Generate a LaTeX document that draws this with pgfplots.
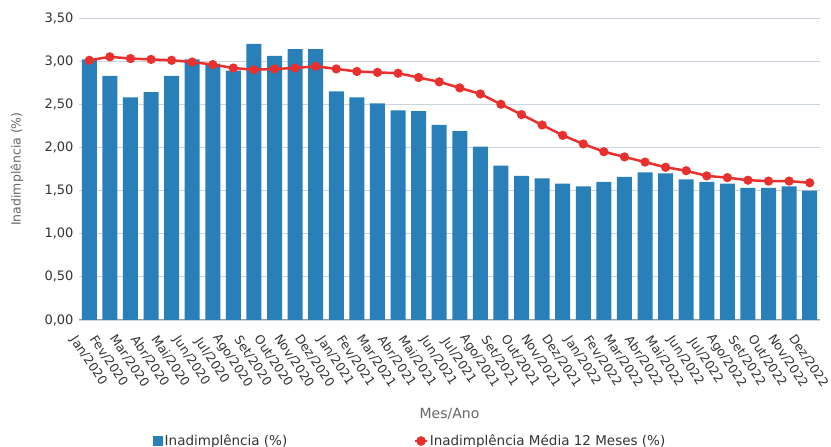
\documentclass[border=0pt]{standalone}
\usepackage{fontspec}
\setmainfont{DejaVu Sans}
\usepackage{pgfplots}
\pgfplotsset{compat=1.18}
\definecolor{barblue}{HTML}{2980B9}
\definecolor{linered}{HTML}{E8302E}
\definecolor{gridc}{HTML}{CAD4DE}
\definecolor{txt}{HTML}{333333}
\definecolor{ttl}{HTML}{666666}
\begin{document}
\begin{tikzpicture}
\path[use as bounding box] (0pt,0pt) rectangle (831pt,447pt);
\begin{axis}[
  at={(79pt,127pt)}, anchor=south west,
  scale only axis, width=741pt, height=302pt,
  xmin=-0.5, xmax=35.5, ymin=0, ymax=3.5,
  xtick={0,...,35},
  xticklabels={Jan/2020,Fev/2020,Mar/2020,Abr/2020,Mai/2020,Jun/2020,Jul/2020,Ago/2020,Set/2020,Out/2020,Nov/2020,Dez/2020,
               Jan/2021,Fev/2021,Mar/2021,Abr/2021,Mai/2021,Jun/2021,Jul/2021,Ago/2021,Set/2021,Out/2021,Nov/2021,Dez/2021,
               Jan/2022,Fev/2022,Mar/2022,Abr/2022,Mai/2022,Jun/2022,Jul/2022,Ago/2022,Set/2022,Out/2022,Nov/2022,Dez/2022},
  ytick={0,0.5,1,1.5,2,2.5,3,3.5},
  yticklabel style={/pgf/number format/.cd, fixed, fixed zerofill, precision=2, use comma, assume math mode=true,
     /tikz/.cd, font=\fontsize{13}{15}\selectfont, text=txt, xshift=-2pt},
  xticklabel style={font=\fontsize{12.5}{15}\selectfont, text=txt, anchor=center, yshift=-41pt, xshift=-1pt, rotate=-56},
  axis line style={draw=none},
  major tick length=0pt,
  ymajorgrids,
  grid style={gridc, line width=0.8pt},
  extra y ticks={0}, extra y tick labels={},
  extra y tick style={grid style={color=black!40, line width=1pt}},
  ylabel={Inadimplência (\%)},
  ylabel style={at={(axis description cs:-0.0837,0.5)}, anchor=center, font=\fontsize{12.5}{14}\selectfont, text=ttl},
  xlabel={Mes/Ano},
  xlabel style={at={(axis description cs:0.5,-0.311)}, anchor=center, font=\fontsize{14}{16}\selectfont, text=ttl},
  legend columns=2,
  legend style={at={(axis description cs:0.4467,-0.4007)}, anchor=center, draw=none, fill=none,
     font=\fontsize{13.5}{15}\selectfont, text=txt,
     /tikz/every even column/.append style={column sep=125pt}},
]
\addplot[ybar, bar width=15pt, bar shift=0pt, fill=barblue, draw=none,
  legend image code/.code={\fill[barblue] (0pt,-5pt) rectangle (10pt,5pt);}]
coordinates {
(0,3.02) (1,2.83) (2,2.58) (3,2.64) (4,2.83) (5,3.02) (6,2.97) (7,2.89) (8,3.20) (9,3.06) (10,3.14) (11,3.14)
(12,2.65) (13,2.58) (14,2.51) (15,2.43) (16,2.42) (17,2.26) (18,2.19) (19,2.01) (20,1.79) (21,1.67) (22,1.64) (23,1.58)
(24,1.55) (25,1.60) (26,1.66) (27,1.71) (28,1.70) (29,1.63) (30,1.60) (31,1.58) (32,1.53) (33,1.53) (34,1.55) (35,1.50)
};
\addlegendentry{Inadimplência (\%)}
\addplot[linered, line width=2.5pt, mark=*, mark size=3.3pt, mark options={solid},
  legend image code/.code={\draw[linered, line width=1.5pt] (0pt,0pt) -- (12pt,0pt); \fill[linered] (6pt,0pt) circle (3.5pt);}]
coordinates {
(0,3.01) (1,3.05) (2,3.03) (3,3.02) (4,3.01) (5,2.99) (6,2.96) (7,2.92) (8,2.90) (9,2.91) (10,2.92) (11,2.94)
(12,2.91) (13,2.88) (14,2.87) (15,2.86) (16,2.81) (17,2.76) (18,2.69) (19,2.62) (20,2.50) (21,2.38) (22,2.26) (23,2.14)
(24,2.04) (25,1.95) (26,1.89) (27,1.83) (28,1.77) (29,1.73) (30,1.67) (31,1.65) (32,1.62) (33,1.61) (34,1.61) (35,1.59)
};
\addlegendentry{Inadimplência Média 12 Meses (\%)}
\end{axis}
\end{tikzpicture}
\end{document}
